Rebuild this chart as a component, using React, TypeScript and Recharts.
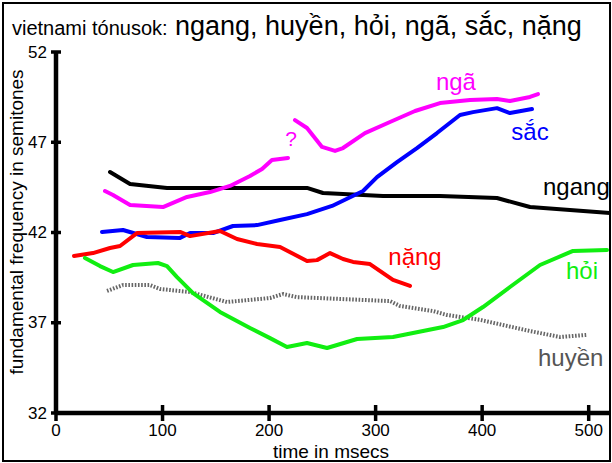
import React from 'react';
import { LineChart, Line, XAxis, YAxis, ReferenceDot } from 'recharts';

const FONT = '"Liberation Sans", Arial, Helvetica, sans-serif';

const xTicks = [0, 100, 200, 300, 400, 500];
const yTicks = [32, 37, 42, 47, 52];

const ngangT = [50.7, 69.5, 104.2, 182.1, 235.6, 250.6, 306.9, 360.4, 413.9, 444.9, 520];
const ngangV = [45.35, 44.69, 44.47, 44.47, 44.47, 44.19, 44.02, 44.02, 43.91, 43.41, 43.08];

const nga1T = [46.0, 53.5, 69.5, 100.4, 123.0, 144.5, 163.3, 182.1, 193.4, 202.7, 217.8];
const nga1V = [44.3, 44.08, 43.52, 43.41, 43.97, 44.24, 44.58, 45.13, 45.52, 46.02, 46.13];

const nga2T = [224.3, 235.6, 249.7, 261.9, 269.4, 290.0, 313.5, 337.0, 360.4, 388.6, 413.9, 426.1, 444.9, 452.4];
const nga2V = [48.23, 47.79, 46.74, 46.52, 46.68, 47.51, 48.12, 48.73, 49.17, 49.34, 49.4, 49.29, 49.51, 49.67];

const sacT = [43.2, 62.9, 85.4, 116.4, 125.8, 147.4, 166.1, 188.7, 210.3, 235.6, 259.1, 288.2, 301.3, 320.1, 338.8, 357.6, 379.2, 391.4, 413.9, 426.1, 446.8];
const sacV = [42.03, 42.14, 41.75, 41.7, 41.97, 41.97, 42.36, 42.41, 42.69, 43.02, 43.47, 44.3, 45.07, 45.9, 46.68, 47.51, 48.51, 48.67, 48.89, 48.62, 48.84];

const nangT = [16.9, 34.7, 50.7, 60.1, 76.0, 116.4, 125.8, 153.9, 169.9, 188.7, 210.3, 235.6, 245.0, 257.2, 269.4, 278.8, 294.7, 316.3, 332.3];
const nangV = [40.7, 40.86, 41.14, 41.25, 41.97, 42.03, 41.8, 42.08, 41.64, 41.36, 41.2, 40.42, 40.47, 40.86, 40.53, 40.37, 40.25, 39.37, 39.04];

const hoiT = [27.2, 41.3, 53.5, 72.3, 95.7, 104.2, 113.6, 128.6, 153.9, 182.1, 200.9, 216.8, 235.6, 254.4, 282.6, 316.3, 335.1, 363.3, 382.1, 400.8, 426.1, 454.3, 485.3, 517.2];
const hoiV = [40.59, 40.14, 39.81, 40.2, 40.31, 40.14, 39.53, 38.64, 37.6, 36.71, 36.15, 35.66, 35.88, 35.6, 36.1, 36.21, 36.43, 36.76, 37.15, 37.87, 38.98, 40.2, 40.98, 41.03];

const huyenT = [47.9, 62.9, 88.2, 97.6, 125.8, 160.5, 200.9, 213.1, 226.2, 313.5, 322.9, 353.9, 367.0, 398.0, 444.9, 473.1, 498.4];
const huyenV = [38.76, 39.09, 39.09, 38.87, 38.7, 38.15, 38.37, 38.59, 38.42, 38.2, 37.93, 37.65, 37.43, 37.16, 36.54, 36.21, 36.33];

// annotation labels: text, x (ms), y (semitones), anchor
const labelTexts = ['ngã', 'sắc', 'ngang', 'nặng', 'hỏi', 'huyền', '?'];
const labelX = [375.4, 444.9, 457.1, 337.0, 478.7, 452.4, 220.6];
const labelY = [49.89, 47.12, 44.08, 40.2, 39.42, 34.6, 46.79];
const labelAnchor = ['middle', 'middle', 'start', 'middle', 'start', 'start', 'middle'];
const labelColors = ['#ff00ff', '#0000ff', '#000000', '#ff0000', '#11ee11', '#555555', '#ff00ff'];

const zip = (t: number[], v: number[]) => t.map((x, i) => ({ t: x, v: v[i] }));

const series = [
  { key: 'huyen', data: zip(huyenT, huyenV), color: '#666666', dash: '1.6 1.6' },
  { key: 'ngang', data: zip(ngangT, ngangV), color: '#000000' },
  { key: 'nga1', data: zip(nga1T, nga1V), color: '#ff00ff' },
  { key: 'nga2', data: zip(nga2T, nga2V), color: '#ff00ff' },
  { key: 'sac', data: zip(sacT, sacV), color: '#0000ff' },
  { key: 'nang', data: zip(nangT, nangV), color: '#ff0000' },
  { key: 'hoi', data: zip(hoiT, hoiV), color: '#11ee11' },
];

const Y_MARGIN = 9;
const X_MARGIN = 10;

const YTick = (props: any) => {
  const { x, y, payload } = props;
  const ax = x + Y_MARGIN;
  return (
    <g>
      <line x1={ax - 5} x2={ax + 5} y1={y} y2={y} stroke="#000" strokeWidth={3.5} />
      <text x={x} y={y} textAnchor="end" dominantBaseline="central" fontSize={17} fontFamily={FONT} fill="#000">
        {payload.value}
      </text>
    </g>
  );
};

const XTick = (props: any) => {
  const { x, y, payload } = props;
  const ay = y - X_MARGIN;
  return (
    <g>
      <line x1={x} x2={x} y1={ay - 8} y2={ay + 8} stroke="#000" strokeWidth={3.5} />
      <text x={x} y={y} dy="0.75em" textAnchor="middle" fontSize={17} fontFamily={FONT} fill="#000">
        {payload.value}
      </text>
    </g>
  );
};

export default function App() {
  return (
    <div style={{ position: 'absolute', left: 0, top: 0, width: 612, height: 463, background: '#fff', overflow: 'hidden' }}>
      <div style={{ position: 'absolute', left: 0, top: 0 }}>
        <LineChart width={612} height={463} margin={{ top: 52, right: 2, bottom: 0, left: 0 }}>
          <XAxis
            type="number"
            dataKey="t"
            domain={[0, 520]}
            ticks={xTicks}
            allowDataOverflow
            height={50}
            axisLine={{ stroke: '#000', strokeWidth: 4.5 }}
            tickLine={false}
            tickSize={0}
            tickMargin={X_MARGIN}
            tick={<XTick />}
            interval={0}
          />
          <YAxis
            type="number"
            domain={[32, 52]}
            ticks={yTicks}
            allowDataOverflow
            width={56}
            axisLine={{ stroke: '#000', strokeWidth: 4.5 }}
            tickLine={false}
            tickSize={0}
            tickMargin={Y_MARGIN}
            tick={<YTick />}
            interval={0}
          />
          {series.map((s) => (
            <Line
              key={s.key}
              data={s.data}
              dataKey="v"
              type="linear"
              stroke={s.color}
              strokeWidth={4}
              strokeDasharray={s.dash}
              strokeLinejoin="round"
              strokeLinecap={s.dash ? 'butt' : 'round'}
              dot={false}
              activeDot={false}
              isAnimationActive={false}
            />
          ))}
          {labelTexts.map((txt, i) => (
            <ReferenceDot
              key={txt}
              x={labelX[i]}
              y={labelY[i]}
              r={0}
              shape={(p: any) => (
                <text
                  x={p.cx}
                  y={p.cy}
                  textAnchor={labelAnchor[i] as any}
                  fontSize={i === 6 ? 21 : 24}
                  fontFamily={FONT}
                  fill={labelColors[i]}
                >
                  {txt}
                </text>
              )}
            />
          ))}
        </LineChart>
      </div>
      <svg width={612} height={463} style={{ position: 'absolute', left: 0, top: 0, pointerEvents: 'none' }}>
        <text x={12} y={35} fontSize={20} fontFamily={FONT} fill="#000">vietnami tónusok:</text>
        <text x={175} y={35} fontSize={27} fontFamily={FONT} fill="#000">ngang, huyền, hỏi, ngã, sắc, nặng</text>
        <text transform="translate(23,222) rotate(-90)" textAnchor="middle" fontSize={19} fontFamily={FONT} fill="#000">
          fundamental frequency in semitones
        </text>
        <text x={331} y={458} textAnchor="middle" fontSize={19} fontFamily={FONT} fill="#000">time in msecs</text>
      </svg>
      <div
        style={{
          position: 'absolute',
          left: 2,
          top: 2,
          width: 609,
          height: 460,
          border: '2px solid #000',
          boxSizing: 'border-box',
          pointerEvents: 'none',
        }}
      />
    </div>
  );
}
